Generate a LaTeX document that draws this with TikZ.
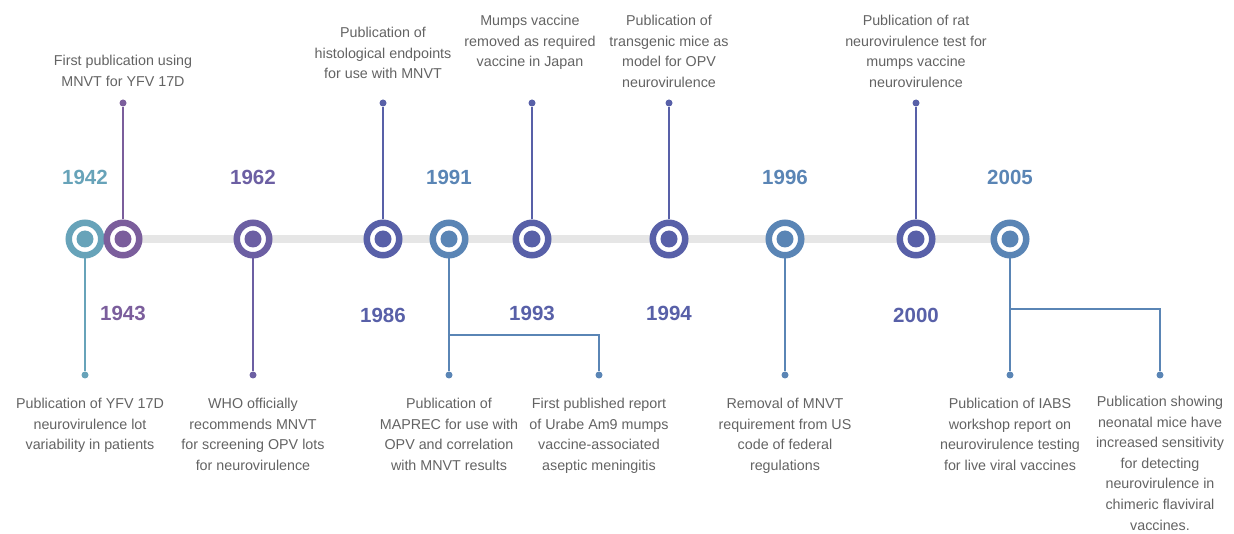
\documentclass[tikz,border=0pt]{standalone}
\usepackage{fontspec}
\setmainfont{Liberation Sans}
\usetikzlibrary{positioning}
\pgfdeclarelayer{trackbg}
\pgfsetlayers{trackbg,main}

\definecolor{tealring}{HTML}{67A3B9}
\definecolor{plumring}{HTML}{7B5E9C}
\definecolor{violetring}{HTML}{6C5FA3}
\definecolor{indigoring}{HTML}{5860A8}
\definecolor{steelring}{HTML}{5A85B5}
\definecolor{trackgray}{HTML}{E6E6E6}
\definecolor{eventgray}{HTML}{636363}

\tikzset{
	ring/.style={circle, draw=#1, line width=6.5pt, fill=white, minimum size=32.5pt, inner sep=0pt,
		path picture={\fill [#1] (path picture bounding box.center) circle (8.5pt);}},
	stem/.style={draw=#1, line width=2pt},
	stemdot/.style={circle, fill=#1, minimum size=7pt, inner sep=0pt},
	year/.style={text=#1, font=\fontsize{20.5}{24}\selectfont\bfseries, inner sep=0pt},
	event/.style={align=center, text=eventgray, font=\fontsize{14.3}{20.6}\selectfont, inner sep=0pt, anchor=north},
	track/.style={draw=trackgray, line width=8pt}
}

\begin{document}
\begin{tikzpicture}[x=1pt, y=-1pt]
		\useasboundingbox (0,0) rectangle (1234,534);
		
		% rings along the time axis
		\node [ring=tealring] at (85,239) (y1942) {};
		\node [ring=plumring] at (123,239) (y1943) {};
		\node [ring=violetring] at (253,239) (y1962) {};
		\node [ring=indigoring] at (383,239) (y1986) {};
		\node [ring=steelring] at (449,239) (y1991) {};
		\node [ring=indigoring] at (532,239) (y1993) {};
		\node [ring=indigoring] at (669,239) (y1994) {};
		\node [ring=steelring] at (785,239) (y1996) {};
		\node [ring=indigoring] at (916,239) (y2000) {};
		\node [ring=steelring] at (1010,239) (y2005) {};
		
		\begin{pgfonlayer}{trackbg}
			\draw [track] (y1942.center) -- (y2005.center);
		\end{pgfonlayer}
		
		% years
		\node [year=tealring, above=35pt of y1942] (l1942) {1942};
		\node [year=plumring, below=47pt of y1943] (l1943) {1943};
		\node [year=violetring, above=35pt of y1962] (l1962) {1962};
		\node [year=indigoring, below=49pt of y1986] (l1986) {1986};
		\node [year=steelring, above=35pt of y1991] (l1991) {1991};
		\node [year=indigoring, below=47pt of y1993] (l1993) {1993};
		\node [year=indigoring, below=47pt of y1994] (l1994) {1994};
		\node [year=steelring, above=35pt of y1996] (l1996) {1996};
		\node [year=indigoring, below=49pt of y2000] (l2000) {2000};
		\node [year=steelring, above=35pt of y2005] (l2005) {2005};
		
		% end dots of the stems
		\node [stemdot=tealring] at (85,375) (d1942) {};
		\node [stemdot=plumring] at (123,103) (d1943) {};
		\node [stemdot=violetring] at (253,375) (d1962) {};
		\node [stemdot=indigoring] at (383,103) (d1986) {};
		\node [stemdot=steelring] at (449,375) (d1991) {};
		\node [stemdot=steelring] at (599,375) (d1991a) {};
		\node [stemdot=indigoring] at (532,103) (d1993) {};
		\node [stemdot=indigoring] at (669,103) (d1994) {};
		\node [stemdot=steelring] at (785,375) (d1996) {};
		\node [stemdot=indigoring] at (916,103) (d2000) {};
		\node [stemdot=steelring] at (1010,375) (d2005) {};
		\node [stemdot=steelring] at (1160,375) (d2005a) {};
		\coordinate (k1991) at (449,335);
		\coordinate (k2005) at (1010,309);
		
		\draw [stem=tealring] (y1942) -- (d1942);
		\draw [stem=plumring] (y1943) -- (d1943);
		\draw [stem=violetring] (y1962) -- (d1962);
		\draw [stem=indigoring] (y1986) -- (d1986);
		\draw [stem=steelring] (y1991) -- (d1991);
		\draw [stem=steelring] (k1991) -| (d1991a);
		\draw [stem=indigoring] (y1993) -- (d1993);
		\draw [stem=indigoring] (y1994) -- (d1994);
		\draw [stem=steelring] (y1996) -- (d1996);
		\draw [stem=indigoring] (y2000) -- (d2000);
		\draw [stem=steelring] (y2005) -- (d2005);
		\draw [stem=steelring] (k2005) -| (d2005a);
		
		% events above the axis
		\node [event] at (123,55) (e1943) {First publication using\\MNVT for YFV 17D};
		\node [event] at (383,27) (e1986) {Publication of\\histological endpoints\\for use with MNVT};
		\node [event] at (530,15) (e1993) {Mumps vaccine\\removed as required\\vaccine in Japan};
		\node [event] at (669,15) (e1994) {Publication of\\transgenic mice as\\model for OPV\\neurovirulence};
		\node [event] at (916,15) (e2000) {Publication of rat\\neurovirulence test for\\mumps vaccine\\neurovirulence};
		
		% events below the axis
		\node [event] at (90,398) (e1942) {Publication of YFV 17D\\neurovirulence lot\\variability in patients};
		\node [event] at (253,398) (e1962) {WHO officially\\recommends MNVT\\for screening OPV lots\\for neurovirulence};
		\node [event] at (449,398) (e1991) {Publication of\\MAPREC for use with\\OPV and correlation\\with MNVT results};
		\node [event] at (599,398) (e1991a) {First published report\\of Urabe Am9 mumps\\vaccine-associated\\aseptic meningitis};
		\node [event] at (785,398) (e1996) {Removal of MNVT\\requirement from US\\code of federal\\regulations};
		\node [event] at (1010,398) (e2005) {Publication of IABS\\workshop report on\\neurovirulence testing\\for live viral vaccines};
		\node [event] at (1160,396) (e2005a) {Publication showing\\neonatal mice have\\increased sensitivity\\for detecting\\neurovirulence in\\chimeric flaviviral\\vaccines.};
\end{tikzpicture}
\end{document}
